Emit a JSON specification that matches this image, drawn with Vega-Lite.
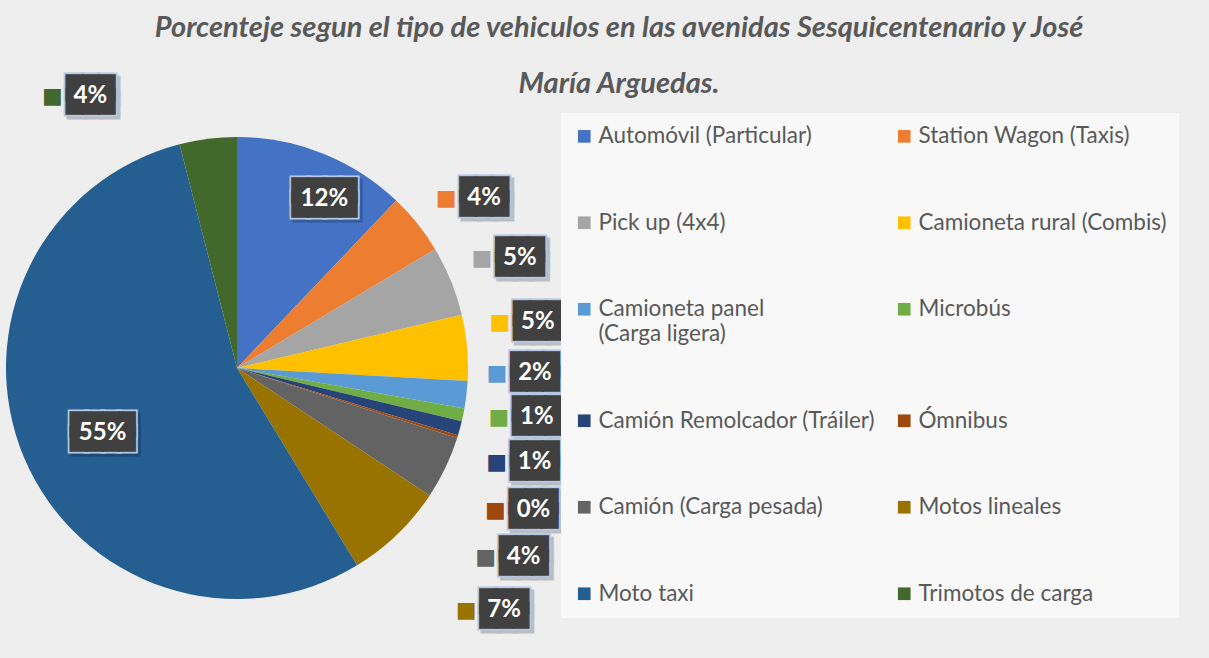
{
  "$schema": "https://vega.github.io/schema/vega-lite/v6.json",
  "width": 462,
  "height": 462,
  "autosize": {"type": "none"},
  "padding": {"left": 6, "top": 137, "right": 741, "bottom": 59},
  "background": "#eeeeee",
  "title": {
    "text": ["Porcenteje segun el tipo de vehiculos en las avenidas Sesquicentenario y José", "María Arguedas."],
    "font": "Lato", "fontSize": 29, "fontStyle": "italic", "fontWeight": "bold",
    "color": "#595959", "lineHeight": 56, "anchor": "middle", "frame": "group", "dx": 382, "offset": -21
  },
  "data": {
    "values": [
      {"orden": 1, "tipo": "Automóvil (Particular)", "porcentaje": 12.1, "etiqueta": "12%"},
      {"orden": 2, "tipo": "Station Wagon (Taxis)", "porcentaje": 4.3, "etiqueta": "4%"},
      {"orden": 3, "tipo": "Pick up (4x4)", "porcentaje": 4.9, "etiqueta": "5%"},
      {"orden": 4, "tipo": "Camioneta rural (Combis)", "porcentaje": 4.6, "etiqueta": "5%"},
      {"orden": 5, "tipo": "Camioneta panel (Carga ligera)", "porcentaje": 1.9, "etiqueta": "2%"},
      {"orden": 6, "tipo": "Microbús", "porcentaje": 0.9, "etiqueta": "1%"},
      {"orden": 7, "tipo": "Camión Remolcador (Tráiler)", "porcentaje": 1.0, "etiqueta": "1%"},
      {"orden": 8, "tipo": "Ómnibus", "porcentaje": 0.2, "etiqueta": "0%"},
      {"orden": 9, "tipo": "Camión (Carga pesada)", "porcentaje": 4.4, "etiqueta": "4%"},
      {"orden": 10, "tipo": "Motos lineales", "porcentaje": 7.0, "etiqueta": "7%"},
      {"orden": 11, "tipo": "Moto taxi", "porcentaje": 54.7, "etiqueta": "55%"},
      {"orden": 12, "tipo": "Trimotos de carga", "porcentaje": 4.0, "etiqueta": "4%"}
    ]
  },
  "encoding": {
    "theta": {"field": "porcentaje", "type": "quantitative", "stack": true},
    "order": {"field": "orden", "type": "quantitative"}
  },
  "layer": [
    {
      "mark": {"type": "arc", "radius": 231},
      "encoding": {
        "color": {
          "field": "tipo", "type": "nominal",
          "scale": {
            "domain": ["Automóvil (Particular)", "Station Wagon (Taxis)", "Pick up (4x4)", "Camioneta rural (Combis)", "Camioneta panel (Carga ligera)", "Microbús", "Camión Remolcador (Tráiler)", "Ómnibus", "Camión (Carga pesada)", "Motos lineales", "Moto taxi", "Trimotos de carga"],
            "range": ["#4472C4", "#ED7D31", "#A5A5A5", "#FFC000", "#5B9BD5", "#70AD47", "#264478", "#9E480E", "#636363", "#997300", "#255E91", "#43682B"]
          },
          "legend": {
            "orient": "none", "legendX": 555, "legendY": -24, "columns": 2, "direction": "horizontal",
            "symbolType": "square", "symbolSize": 160, "symbolStrokeWidth": 0,
            "labelFont": "Lato", "labelFontSize": 22.5, "labelColor": "#595959",
            "rowPadding": 63.5, "columnPadding": 17, "labelOffset": 3, "title": null,
            "labelLimit": 400, "padding": 12, "fillColor": "#f8f8f8",
            "labelExpr": "datum.label == 'Camioneta panel (Carga ligera)' ? ['Camioneta panel', '(Carga ligera)'] : datum.label"
          }
        }
      }
    },
    {
      "mark": {
        "type": "text", "font": "DejaVu Sans", "fontSize": 21, "lineHeight": 14,
        "align": "center", "baseline": "middle", "color": "#000000", "opacity": 0.2,
        "stroke": "#000000", "strokeWidth": 5, "strokeJoin": "miter",
        "radius": {"expr": "datum.orden == 1 ? 195 : (datum.orden == 11 ? 148 : 300)"},
        "dx": {"expr": "[15,13,5,2,0,6,8,10,16,59,2,-109][datum.orden-1] + 3"},
        "dy": {"expr": "[12,18,3,-20,-30,-12,16,53,60,26,8,26][datum.orden-1] - 4"}
      },
      "encoding": {
        "text": {"condition": {"test": "length(datum.etiqueta) > 2", "value": ["████", "████"]}, "value": ["███", "███"]}
      }
    },
    {
      "mark": {
        "type": "text", "font": "DejaVu Sans", "fontSize": 21, "lineHeight": 14,
        "align": "center", "baseline": "middle", "color": "#b4c7e7",
        "stroke": "#b4c7e7", "strokeWidth": 5, "strokeJoin": "miter",
        "radius": {"expr": "datum.orden == 1 ? 195 : (datum.orden == 11 ? 148 : 300)"},
        "dx": {"expr": "[15,13,5,2,0,6,8,10,16,59,2,-109][datum.orden-1]"},
        "dy": {"expr": "[12,18,3,-20,-30,-12,16,53,60,26,8,26][datum.orden-1] - 7"}
      },
      "encoding": {
        "text": {"condition": {"test": "length(datum.etiqueta) > 2", "value": ["████", "████"]}, "value": ["███", "███"]}
      }
    },
    {
      "mark": {
        "type": "text", "font": "DejaVu Sans", "fontSize": 21, "lineHeight": 14,
        "align": "center", "baseline": "middle", "color": "#404040",
        "stroke": "#404040", "strokeWidth": 1.5, "strokeJoin": "miter",
        "radius": {"expr": "datum.orden == 1 ? 195 : (datum.orden == 11 ? 148 : 300)"},
        "dx": {"expr": "[15,13,5,2,0,6,8,10,16,59,2,-109][datum.orden-1]"},
        "dy": {"expr": "[12,18,3,-20,-30,-12,16,53,60,26,8,26][datum.orden-1] - 7"}
      },
      "encoding": {
        "text": {"condition": {"test": "length(datum.etiqueta) > 2", "value": ["████", "████"]}, "value": ["███", "███"]}
      }
    },
    {
      "mark": {
        "type": "text", "font": "Lato", "fontSize": 24, "fontWeight": "bold",
        "align": "center", "baseline": "middle", "color": "#ffffff",
        "radius": {"expr": "datum.orden == 1 ? 195 : (datum.orden == 11 ? 148 : 300)"},
        "dx": {"expr": "[15,13,5,2,0,6,8,10,16,59,2,-109][datum.orden-1]"},
        "dy": {"expr": "[12,18,3,-20,-30,-12,16,53,60,26,8,26][datum.orden-1]"}
      },
      "encoding": {
        "text": {"field": "etiqueta", "type": "nominal"}
      }
    },
    {
      "mark": {
        "type": "text", "font": "DejaVu Sans", "fontSize": 22,
        "align": "center", "baseline": "middle",
        "radius": 300,
        "dx": {"expr": "[15,13,5,2,0,6,8,10,16,59,2,-109][datum.orden-1] - 38"},
        "dy": {"expr": "[12,18,3,-20,-30,-12,16,53,60,26,8,26][datum.orden-1]"}
      },
      "encoding": {
        "color": {"field": "tipo", "type": "nominal"},
        "text": {"condition": {"test": "datum.orden != 1 && datum.orden != 11", "value": "■"}, "value": ""}
      }
    }
  ],
  "config": {"view": {"stroke": null}}
}
